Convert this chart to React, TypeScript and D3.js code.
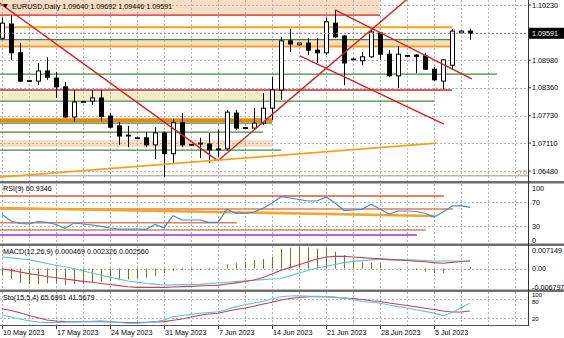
import React from "react";
import * as d3 from "d3";

// daily bars, this feed has Sunday candles
const dates = [
  "2023-05-10", "2023-05-11", "2023-05-12", "2023-05-14", "2023-05-15", "2023-05-16", "2023-05-17", "2023-05-18", "2023-05-19",
  "2023-05-21", "2023-05-22", "2023-05-23", "2023-05-24", "2023-05-25", "2023-05-26", "2023-05-28", "2023-05-29", "2023-05-30",
  "2023-05-31", "2023-06-01", "2023-06-02", "2023-06-04", "2023-06-05", "2023-06-06", "2023-06-07", "2023-06-08", "2023-06-09",
  "2023-06-11", "2023-06-12", "2023-06-13", "2023-06-14", "2023-06-15", "2023-06-16", "2023-06-18", "2023-06-19", "2023-06-20",
  "2023-06-21", "2023-06-22", "2023-06-23", "2023-06-25", "2023-06-26", "2023-06-27", "2023-06-28", "2023-06-29", "2023-06-30",
  "2023-07-02", "2023-07-03", "2023-07-04", "2023-07-05", "2023-07-06", "2023-07-07", "2023-07-09", "2023-07-10",
];
const open = [
  1.0948, 1.098, 1.0915, 1.0851, 1.0851, 1.0874, 1.0858, 1.0838, 1.077, 1.0804, 1.0806, 1.0813, 1.0772, 1.075, 1.0727, 1.0723,
  1.0723, 1.0707, 1.0734, 1.0687, 1.0757, 1.0707, 1.0709, 1.0709, 1.0696, 1.0698, 1.0779, 1.0745, 1.0745, 1.0756, 1.079, 1.0831,
  1.0942, 1.0933, 1.0937, 1.0921, 1.0915, 1.0982, 1.0953, 1.0901, 1.0897, 1.0906, 1.096, 1.0912, 1.0863, 1.0908, 1.091, 1.0908,
  1.0878, 1.0851, 1.0887, 1.096, 1.0964,
];
const high = [
  1.0994, 1.1, 1.0937, 1.0854, 1.0892, 1.0905, 1.0872, 1.0849, 1.0831, 1.0806, 1.0831, 1.0831, 1.0779, 1.0759, 1.075, 1.0725,
  1.0736, 1.0747, 1.0737, 1.0765, 1.0779, 1.0709, 1.0723, 1.0734, 1.0741, 1.0786, 1.0786, 1.0747, 1.079, 1.0824, 1.086, 1.0951,
  1.0969, 1.0937, 1.0948, 1.0948, 1.0994, 1.1012, 1.0955, 1.0903, 1.0917, 1.0967, 1.0962, 1.0921, 1.093, 1.091, 1.0912, 1.0915,
  1.0883, 1.0901, 1.0969, 1.0966, 1.09692,
];
const low = [
  1.0944, 1.0899, 1.0849, 1.0849, 1.0842, 1.0854, 1.0813, 1.0768, 1.0759, 1.0802, 1.0797, 1.0762, 1.0745, 1.0707, 1.0702, 1.072,
  1.0702, 1.0675, 1.0634, 1.0666, 1.0702, 1.0705, 1.0677, 1.0666, 1.068, 1.0694, 1.0741, 1.0743, 1.0741, 1.0752, 1.0763, 1.0808,
  1.0917, 1.093, 1.091, 1.0892, 1.091, 1.0948, 1.0842, 1.0899, 1.0887, 1.0903, 1.0899, 1.086, 1.0835, 1.0906, 1.0869, 1.0876,
  1.0851, 1.0833, 1.0876, 1.096, 1.09446,
];
const close = [
  1.0982, 1.0915, 1.0851, 1.0852, 1.0874, 1.086, 1.0838, 1.077, 1.0804, 1.0805, 1.0813, 1.0771, 1.0747, 1.0727, 1.0729, 1.0722,
  1.0707, 1.0734, 1.0687, 1.0757, 1.0707, 1.0708, 1.0711, 1.0696, 1.0698, 1.0781, 1.0745, 1.0746, 1.0756, 1.079, 1.0831, 1.0942,
  1.0935, 1.0937, 1.0921, 1.0915, 1.0985, 1.0951, 1.0892, 1.09, 1.0906, 1.0962, 1.0912, 1.0863, 1.0912, 1.0909, 1.0907, 1.0878,
  1.0854, 1.0899, 1.0964, 1.0964, 1.09591,
];

const rsi = [
  49.2, 38.3, 34.2, 33.3, 37.5, 36.2, 32.5, 26.2, 35, 33.3, 31.7, 29.5, 26.7, 25, 25, 25, 24.5, 32.8, 27.2, 47.2, 40, 40, 40,
  36.2, 36.2, 57.8, 51.2, 51.2, 53.3, 59.5, 67.8, 78.8, 76.7, 74.2, 71.7, 71.7, 78.3, 68.3, 55.8, 56.7, 57.8, 66.2, 58.3, 50,
  55, 55, 54.2, 51.2, 45, 53.3, 63.3, 63.8, 60.93,
];
const macdHist = [
  -2.16, -3.49, -4.82, -5.25, -5.25, -4.92, -4.92, -5.48, -5.15, -4.92, -4.58, -4.39, -4.15, -3.92, -3.59, -3.26, -3.06, -2.39,
  -1.59, -0.73, -0.5, -0.5, -0.33, -0.33, 0.17, 1.4, 1.73, 2.26, 2.82, 3.16, 3.92, 6.48, 6.9, 7.15, 7.0, 6.6, 6.9, 5.58, 4.49,
  2.82, 2.26, 2.06, 1.4, 0.07, 0.17, -0.17, -0.5, -1.06, -1.59, -1.5, -0.17, -0.1, 0.47,
].map((v) => v / 1000);
const macdRed = [
  -0.07, -0.6, -1.16, -1.69, -2.16, -2.62, -3.06, -3.49, -3.85, -4.25, -4.58, -4.95, -5.32, -5.68, -6.05, -6.25, -6.25, -6.25,
  -6.25, -6.15, -6.01, -5.91, -5.81, -5.65, -5.58, -5.15, -4.75, -4.32, -3.82, -2.99, -1.83, -0.6, 0.3, 1.26, 2.23, 3.16, 3.82,
  4.05, 4.09, 3.85, 3.62, 3.39, 3.19, 2.96, 2.79, 2.66, 2.46, 2.23, 1.96, 1.76, 2.03, 2.36, 2.56,
].map((v) => v / 1000);
const macdCyan = [
  3.85, 3.55, 3.26, 2.96, 2.29, 1.69, 1.1, 0.7, -0.07, -0.83, -1.5, -2.23, -2.89, -3.52, -4.12, -4.52, -4.95, -5.18, -5.48,
  -5.42, -5.35, -5.32, -5.25, -5.02, -4.78, -4.55, -4.32, -4.09, -3.89, -3.69, -3.49, -3.32, -2.43, -1.5, -0.63, 0.2, 0.76,
  1.36, 1.96, 2.39, 2.62, 2.86, 3.12, 3.09, 2.99, 2.89, 2.82, 2.66, 2.49, 2.49, 2.49, 2.43, 2.33,
].map((v) => v / 1000);
const stoMain = [
  29.7, 22.8, 16.6, 10.9, 7.2, 5.3, 5.6, 6.6, 7.5, 8.1, 9.7, 11.3, 8.8, 5.6, 3.4, 3.4, 5.3, 7.5, 13.4, 23.8, 27.5, 30.9, 34.4,
  36.6, 39, 46, 55.3, 61, 66.6, 72.2, 79, 86, 88.4, 88.8, 87.8, 87.2, 86.6, 84.7, 82.5, 77.5, 71.3, 68.8, 66, 60.3, 55.3, 51,
  45.3, 40.3, 35, 26.9, 36.6, 51.9, 65.7,
];
const stoSignal = [
  48.8, 43, 36, 27.5, 20.3, 13.4, 10.3, 8.4, 8.1, 8.1, 8.1, 8.1, 7.2, 6.3, 5.3, 5.6, 6.6, 7.5, 8.4, 12.8, 16.6, 22.8, 28.1,
  32.2, 34.4, 41, 46.3, 51, 56.3, 63.4, 68.8, 76, 80.6, 83.8, 86.3, 86.3, 86.3, 84, 82.2, 80.6, 77.5, 73.8, 71.3, 66.6, 62.8,
  58.8, 54.7, 50.3, 46, 41.6, 38.4, 38.4, 41.6,
];

const priceTicks = [1.1023, 1.096, 1.0898, 1.0836, 1.0773, 1.0711, 1.0648];
const rsiTicks = [100, 70, 30, 0];
const rsiGrid = [70, 30];
const macdTicks = [0.007149, 0, -0.006797];
const stoTicks = [100, 80, 20];
const labelDates = ["2023-05-10", "2023-05-17", "2023-05-24", "2023-05-31", "2023-06-07", "2023-06-14", "2023-06-21", "2023-06-28", "2023-07-05"];

// drawn objects on the price window
const zoneHi = [1.104, 1.0944, 1.0826, 1.0718];
const zoneLo = [1.1, 1.093, 1.0808, 1.0702];
const zoneTo = [42, 50, 31, 30];
const zoneKind = ["peach", "peach", "khaki", "peach"];

const levelPrice = [1.1, 1.0973, 1.0945, 1.0929, 1.0867, 1.0831, 1.0806, 1.07625, 1.0756, 1.0736, 1.0695];
const levelTo = [42, 50, 50, 50, 55, 50, 48, 30, 30, 29, 31];
const levelKind = ["red", "orange", "green", "orange", "green", "red", "green", "band", "green", "green", "green"];

const trendFrom = [[-0.3, 1.1028], [24, 1.0671], [37, 1.1012], [33.1, 1.0908], [-0.3, 1.0634]];
const trendTo = [[24, 1.0671], [45, 1.1036], [52.2, 1.0856], [49.1, 1.0754], [48.3, 1.0711]];
const trendKind = ["red", "red", "red", "red", "orange"];
const fibLevel = 1.0637;

const rsiLevel = [80, 58.3, 35.5, 23.3, 15];
const rsiLevelTo = [49.1, 50.1, 26.1, 47.1, 46.1];
const rsiLevelKind = ["rsiRed", "salmon", "salmon", "brown", "purple"];
const rsiTrendFrom = [-0.3, 60];
const rsiTrendTo = [48.1, 46.7];

const lastPrice = 1.09591;

const COL: Record<string, string> = {
  red: "#d42222",
  orange: "#f2a31b",
  green: "#3f8c3f",
  band: "#e8880f",
  peach: "#fddcc4",
  khaki: "#f5ebc4",
  rsiRed: "#e2582c",
  salmon: "#e27e58",
  brown: "#c98462",
  purple: "#a02ec8",
};
const WID: Record<string, number> = { red: 1.3, orange: 2, green: 1.2, band: 4, rsiRed: 1.3, salmon: 1.5, brown: 1.3, purple: 1.3 };

const font = "Liberation Sans, Arial, sans-serif";
const RIGHT = 528;

export default function App() {
  const n = dates.length;
  const x = d3.scaleLinear().domain([0, 1]).range([2, 11]);
  const yP = d3.scaleLinear().domain([1.0648, 1.1023]).range([171, 5]);
  const yR = d3.scaleLinear().domain([0, 100]).range([244, 184]);
  const yM = d3.scaleLinear().domain([-0.006797, 0.007149]).range([289, 247]);
  const yS = d3.scaleLinear().domain([0, 100]).range([324.3, 292.3]);
  const fmt = d3.timeFormat("%-d %b %Y");
  const parse = d3.timeParse("%Y-%m-%d");

  const gridIdx = d3.range(0, 58, 3);
  const idx = d3.range(n);
  const rsiLine = d3.line<number>().x((i) => x(i)).y((i) => yR(rsi[i]));
  const mRed = d3.line<number>().x((i) => x(i)).y((i) => yM(macdRed[i]));
  const mCyan = d3.line<number>().x((i) => x(i)).y((i) => yM(macdCyan[i]));
  const sMain = d3.line<number>().x((i) => x(i)).y((i) => yS(stoMain[i]));
  const sSig = d3.line<number>().x((i) => x(i)).y((i) => yS(stoSignal[i]));

  const dot = { stroke: "#b4b4b4", strokeWidth: 1, strokeDasharray: "2,2" };
  const txt = { fontFamily: font, fontSize: 7.2, fill: "#000" };

  return (
    <svg width={564} height={338} style={{ position: "absolute", left: 0, top: 0, background: "#fff" }}>
      <defs>
        <clipPath id="cMain"><rect x={0} y={0} width={RIGHT} height={181} /></clipPath>
        <clipPath id="cRsi"><rect x={0} y={184} width={RIGHT} height={60} /></clipPath>
        <clipPath id="cMacd"><rect x={0} y={246} width={RIGHT} height={44} /></clipPath>
        <clipPath id="cSto"><rect x={0} y={292} width={RIGHT} height={33} /></clipPath>
      </defs>
      <rect x={0} y={0} width={564} height={338} fill="#fff" />

      {/* price window */}
      <g clipPath="url(#cMain)">
        {zoneHi.map((hi, k) => (
          <rect key={k} x={0} y={yP(hi)} width={x(zoneTo[k])} height={yP(zoneLo[k]) - yP(hi)} fill={COL[zoneKind[k]]} />
        ))}
        {priceTicks.map((p) => (
          <line key={p} x1={0} x2={RIGHT} y1={Math.round(yP(p)) + 0.5} y2={Math.round(yP(p)) + 0.5} {...dot} />
        ))}
        {gridIdx.map((i) => (
          <line key={i} x1={x(i) + 0.5} x2={x(i) + 0.5} y1={0} y2={181} {...dot} />
        ))}
        <line x1={0} x2={RIGHT} y1={yP(fibLevel)} y2={yP(fibLevel)} stroke="#c9b9a0" strokeWidth={1.5} />
        <text x={517} y={174.5} {...txt} fill="#b59f80">0.0</text>
        {levelPrice.map((p, k) => (
          <line key={k} x1={0} x2={x(levelTo[k])} y1={yP(p)} y2={yP(p)} stroke={COL[levelKind[k]]} strokeWidth={WID[levelKind[k]]} />
        ))}
        {idx.map((i) => {
          const cx = Math.round(x(i));
          const top = yP(Math.max(open[i], close[i]));
          const bot = yP(Math.min(open[i], close[i]));
          const up = close[i] >= open[i];
          return (
            <g key={i}>
              <line x1={cx + 0.5} x2={cx + 0.5} y1={yP(high[i])} y2={yP(low[i])} stroke="#000" strokeWidth={1} />
              <rect x={cx - 2 + 0.5} y={top} width={4} height={Math.max(bot - top, 0.8)} fill={up ? "#fff" : "#000"} stroke="#000" strokeWidth={1} />
            </g>
          );
        })}
        {trendFrom.map((a, k) => (
          <line key={k} x1={x(a[0])} y1={yP(a[1])} x2={x(trendTo[k][0])} y2={yP(trendTo[k][1])} stroke={COL[trendKind[k]]} strokeWidth={trendKind[k] === "orange" ? 1.8 : 1.4} />
        ))}
        <line x1={0} x2={RIGHT} y1={yP(lastPrice)} y2={yP(lastPrice)} stroke="#8a8a8a" strokeWidth={1} strokeDasharray="2,2" />
        <path d="M3,4 L8,4 L5.5,8 Z" fill="#000" />
        <text x={12} y={9} {...txt}>EURUSD,Daily  1.09640 1.09692 1.09446 1.09591</text>
      </g>

      {/* RSI */}
      <g clipPath="url(#cRsi)">
        {rsiGrid.map((v) => (
          <line key={v} x1={0} x2={RIGHT} y1={Math.round(yR(v)) + 0.5} y2={Math.round(yR(v)) + 0.5} {...dot} />
        ))}
        {gridIdx.map((i) => (
          <line key={i} x1={x(i) + 0.5} x2={x(i) + 0.5} y1={184} y2={244} {...dot} />
        ))}
        {rsiLevel.map((v, k) => (
          <line key={k} x1={0} x2={x(rsiLevelTo[k])} y1={yR(v)} y2={yR(v)} stroke={COL[rsiLevelKind[k]]} strokeWidth={WID[rsiLevelKind[k]]} />
        ))}
        <line x1={x(rsiTrendFrom[0])} y1={yR(rsiTrendFrom[1])} x2={x(rsiTrendTo[0])} y2={yR(rsiTrendTo[1])} stroke="#f4a52a" strokeWidth={2.6} />
        <path d={rsiLine(idx) ?? ""} fill="none" stroke="#3c8ed6" strokeWidth={1.2} />
        <text x={3} y={191} {...txt}>RSI(9) 60.9346</text>
      </g>

      {/* MACD */}
      <g clipPath="url(#cMacd)">
        <line x1={0} x2={RIGHT} y1={Math.round(yM(0)) + 0.5} y2={Math.round(yM(0)) + 0.5} {...dot} />
        {gridIdx.map((i) => (
          <line key={i} x1={x(i) + 0.5} x2={x(i) + 0.5} y1={246} y2={290} {...dot} />
        ))}
        {idx.map((i) => (
          <line key={i} x1={Math.round(x(i)) + 0.5} x2={Math.round(x(i)) + 0.5} y1={yM(0)} y2={yM(macdHist[i])} stroke="#76761e" strokeWidth={1.1} />
        ))}
        <path d={mCyan(idx) ?? ""} fill="none" stroke="#5cc6cf" strokeWidth={1.1} />
        <path d={mRed(idx) ?? ""} fill="none" stroke="#c2405c" strokeWidth={1.1} />
        <text x={3} y={254} {...txt}>MACD(12,26,9) 0.000469 0.002326 0.002560</text>
      </g>

      {/* Stochastic */}
      <g clipPath="url(#cSto)">
        {[80, 20].map((v) => (
          <line key={v} x1={0} x2={RIGHT} y1={Math.round(yS(v)) + 0.5} y2={Math.round(yS(v)) + 0.5} {...dot} />
        ))}
        {gridIdx.map((i) => (
          <line key={i} x1={x(i) + 0.5} x2={x(i) + 0.5} y1={292} y2={325} {...dot} />
        ))}
        <path d={sSig(idx) ?? ""} fill="none" stroke="#c2405c" strokeWidth={1.1} />
        <path d={sMain(idx) ?? ""} fill="none" stroke="#5cc6cf" strokeWidth={1.1} />
        <text x={3} y={300} {...txt}>Sto(15,5,4) 65.6991 41.5679</text>
      </g>

      {/* separators and frame */}
      <rect x={0} y={181} width={564} height={2.5} fill="#6e6e6e" />
      <rect x={0} y={243.5} width={564} height={2.5} fill="#6e6e6e" />
      <rect x={0} y={289.5} width={564} height={2.5} fill="#6e6e6e" />
      <line x1={0} x2={RIGHT + 1} y1={325.5} y2={325.5} stroke="#555" strokeWidth={1} />
      <line x1={RIGHT + 0.5} x2={RIGHT + 0.5} y1={0} y2={326} stroke="#333" strokeWidth={1} />

      {/* right scales */}
      {priceTicks.map((p) => (
        <g key={p}>
          <line x1={RIGHT} x2={RIGHT + 3} y1={yP(p)} y2={yP(p)} stroke="#333" />
          <text x={532} y={yP(p) + 2.5} {...txt}>{p.toFixed(5)}</text>
        </g>
      ))}
      <rect x={529} y={yP(lastPrice) - 5.5} width={35} height={11} fill="#000" />
      <text x={532} y={yP(lastPrice) + 2.5} {...txt} fill="#fff">{lastPrice.toFixed(5)}</text>
      {rsiTicks.map((v) => (
        <text key={v} x={532} y={Math.min(Math.max(yR(v), 188), 240) + 2.5} {...txt}>{v}</text>
      ))}
      {macdTicks.map((v) => (
        <text key={v} x={532} y={Math.min(Math.max(yM(v), 250), 287) + 2.5} {...txt}>{v === 0 ? "0.00" : v.toFixed(6)}</text>
      ))}
      {stoTicks.map((v) => (
        <text key={v} x={532} y={v === 100 ? 297 : v === 80 ? 304 : yS(v) + 2.8} {...txt} fontSize={6}>{v}</text>
      ))}

      {/* time scale */}
      {labelDates.map((d) => {
        const i = dates.indexOf(d);
        return (
          <g key={d}>
            <line x1={x(i) + 0.5} x2={x(i) + 0.5} y1={326} y2={329} stroke="#333" />
            <text x={x(i) + 1} y={335} {...txt}>{fmt(parse(d) as Date)}</text>
          </g>
        );
      })}
    </svg>
  );
}
